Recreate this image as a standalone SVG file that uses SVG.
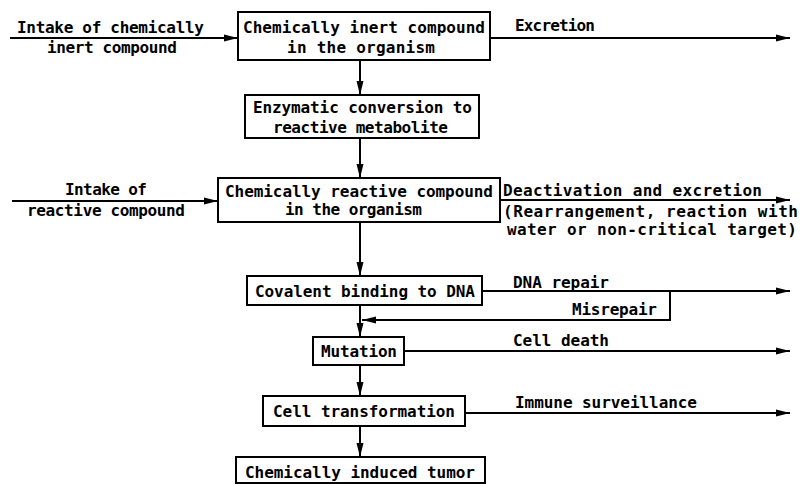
<svg xmlns="http://www.w3.org/2000/svg" width="800" height="484" viewBox="0 0 800 484">
<defs>
<marker id="ah" viewBox="0 0 14 8" refX="14" refY="4" markerWidth="14" markerHeight="8" markerUnits="userSpaceOnUse" orient="auto">
<path d="M0,0.5 L14,4 L0,7.5 Z" fill="#000"/>
</marker>
<style>
text{font-family:"DejaVu Sans Mono","Liberation Mono",monospace;font-size:16px;font-weight:bold;fill:#000}
rect{fill:#fff;stroke:#000;stroke-width:2}
.c{fill:none;stroke:#000;stroke-width:2}
</style>
</defs>
<rect x="0" y="0" width="800" height="484" style="fill:#fff;stroke:none"/>
<g id="connectors">
<path class="c" d="M10,38 H238" marker-end="url(#ah)"/>
<path class="c" d="M490,38 H790" marker-end="url(#ah)"/>
<path class="c" d="M360,60 V95" marker-end="url(#ah)"/>
<path class="c" d="M360,138 V178" marker-end="url(#ah)"/>
<path class="c" d="M12,201 H218" marker-end="url(#ah)"/>
<path class="c" d="M500,200 H790" marker-end="url(#ah)"/>
<path class="c" d="M360,222 V276" marker-end="url(#ah)"/>
<path class="c" d="M482,291 H790" marker-end="url(#ah)"/>
<path class="c" d="M670,291 V320 H362" marker-end="url(#ah)"/>
<path class="c" d="M360,305 V337" marker-end="url(#ah)"/>
<path class="c" d="M404,351 H790" marker-end="url(#ah)"/>
<path class="c" d="M360,365 V396" marker-end="url(#ah)"/>
<path class="c" d="M465,413 H790" marker-end="url(#ah)"/>
<path class="c" d="M360,426 V457" marker-end="url(#ah)"/>
</g>
<g id="labels">
<text x="17" y="33" textLength="187">Intake of chemically</text>
<text x="47" y="53" textLength="130">inert compound</text>
<text x="515" y="31" textLength="80">Excretion</text>
<text x="65" y="195" textLength="82">Intake of</text>
<text x="27" y="216" textLength="158">reactive compound</text>
<text x="503" y="196" textLength="259">Deactivation and excretion</text>
<text x="503" y="217" textLength="295">(Rearrangement, reaction with</text>
<text x="507" y="235" textLength="290">water or non-critical target)</text>
<text x="513" y="288" textLength="96">DNA repair</text>
<text x="572" y="315" textLength="85">Misrepair</text>
<text x="513" y="346" textLength="96">Cell death</text>
<text x="515" y="408" textLength="182">Immune surveillance</text>
</g>
<g id="n1">
<rect x="238" y="12" width="252" height="48"/>
<text x="243" y="33" textLength="242">Chemically inert compound</text>
<text x="287" y="53" textLength="148">in the organism</text>
</g>
<g id="n2">
<rect x="245" y="95" width="234" height="43"/>
<text x="253" y="113" textLength="219">Enzymatic conversion to</text>
<text x="273" y="133" textLength="175">reactive metabolite</text>
</g>
<g id="n3">
<rect x="218" y="178" width="282" height="44"/>
<text x="225" y="197" textLength="268">Chemically reactive compound</text>
<text x="285" y="215" textLength="137">in the organism</text>
</g>
<g id="n4">
<rect x="247" y="276" width="235" height="29"/>
<text x="255" y="297" textLength="220">Covalent binding to DNA</text>
</g>
<g id="n5">
<rect x="313" y="337" width="91" height="28"/>
<text x="321" y="357" textLength="76">Mutation</text>
</g>
<g id="n6">
<rect x="263" y="396" width="202" height="30"/>
<text x="273" y="417" textLength="182">Cell transformation</text>
</g>
<g id="n7">
<rect x="236" y="457" width="249" height="26"/>
<text x="245" y="478" textLength="230">Chemically induced tumor</text>
</g>
</svg>
